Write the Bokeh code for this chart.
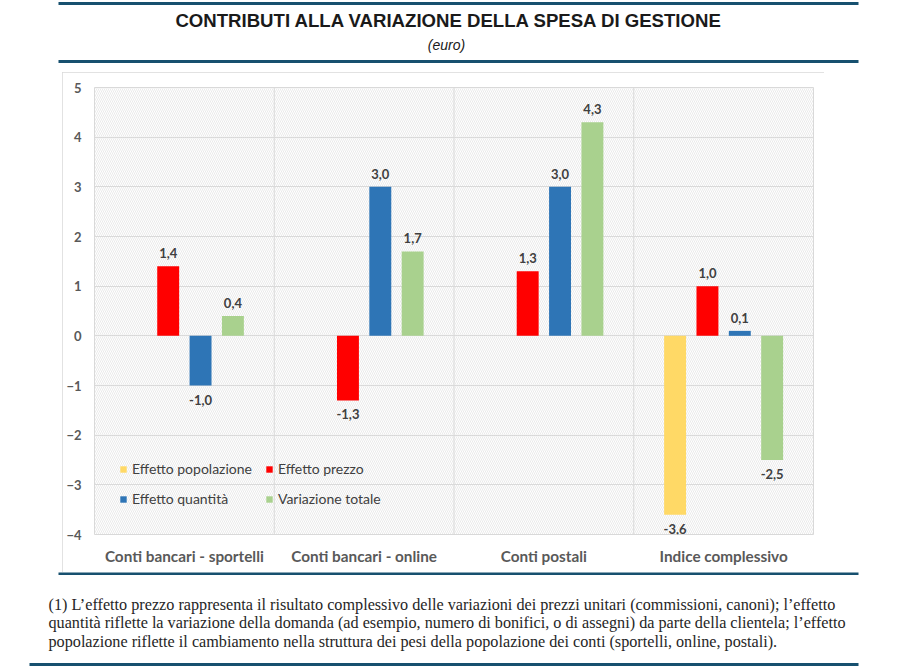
from bokeh.plotting import figure
from bokeh.models import (ColumnDataSource, FactorRange, FixedTicker, Span, BoxAnnotation,
                          Label, Legend, LegendItem, Range1d, Spacer)
from bokeh.layouts import column, row
from bokeh.transform import dodge
from bokeh.core.properties import value
from bokeh.embed import file_html
from bokeh.resources import INLINE

categories = ["Conti bancari - sportelli", "Conti bancari - online", "Conti postali", "Indice complessivo"]
series_names = ["Effetto popolazione", "Effetto prezzo", "Effetto quantità", "Variazione totale"]
popolazione = [None, None, None, -3.6]
prezzo = [1.4, -1.3, 1.3, 1.0]
quantita = [-1.0, 3.0, 3.0, 0.1]
totale = [0.4, 1.7, 4.3, -2.5]
y_ticks = [-4, -3, -2, -1, 0, 1, 2, 3, 4, 5]

title_text = "CONTRIBUTI ALLA VARIAZIONE DELLA SPESA DI GESTIONE"
subtitle_text = "(euro)"
note_lines = [
    "(1) L\u2019effetto prezzo rappresenta il risultato complessivo delle variazioni dei prezzi unitari (commissioni, canoni); l\u2019effetto",
    "quantità riflette la variazione della domanda (ad esempio, numero di bonifici, o di assegni) da parte della clientela; l\u2019effetto",
    "popolazione riflette il cambiamento nella struttura dei pesi della popolazione dei conti (sportelli, online, postali).",
]

colors = ["#FFD966", "#FF0000", "#2E75B6", "#A9D18E"]
offsets = [-0.27, -0.09, 0.09, 0.27]
series = [popolazione, prezzo, quantita, totale]
RULE = "#17506f"


def blank(w, h):
    f = figure(width=w, height=h, x_range=Range1d(0, w), y_range=Range1d(h, 0),
               output_backend="svg", toolbar_location=None, min_border=0,
               x_axis_location=None, y_axis_location=None)
    f.grid.visible = False
    f.outline_line_color = None
    f.background_fill_color = "white"
    f.border_fill_color = "white"
    return f


# ---------- header (canvas y 0..72)
head = blank(901, 72)
for yy in (3, 61):
    head.add_layout(BoxAnnotation(left=58, right=858, top=yy - 1.5, bottom=yy + 1.5,
                                  fill_color=RULE, fill_alpha=1, line_color=None))
head.add_layout(Label(x=449, y=20, text=title_text, text_align="center", text_baseline="middle",
                      text_font="Liberation Sans", text_font_style="bold",
                      text_font_size="18.6px", text_color="#1a1a1a"))
head.add_layout(Label(x=446, y=44, text=subtitle_text, text_align="center", text_baseline="middle",
                      text_font="Liberation Sans", text_font_style="italic",
                      text_font_size="14px", text_color="#1a1a1a"))

# ---------- main chart (canvas x 62..824, y 72..572)
p = figure(width=762, height=500, x_range=FactorRange(factors=categories, range_padding=0),
           y_range=(-4, 5), output_backend="svg", toolbar_location=None,
           min_border_left=32, min_border_right=11, min_border_top=15, min_border_bottom=38)
p.styles = {"outline": "1px solid #d9d9d9", "outline-offset": "-1px"}
p.background_fill_color = "white"
p.border_fill_color = "white"
p.outline_line_color = "#d9d9d9"

p.ygrid.ticker = FixedTicker(ticks=y_ticks)
p.ygrid.grid_line_color = "#d9d9d9"
p.xgrid.grid_line_color = None
for b in range(1, len(categories)):
    p.add_layout(Span(location=b, dimension="height", line_color="#d9d9d9", line_width=1, level="underlay"))

p.add_layout(BoxAnnotation(fill_alpha=0, line_alpha=0, hatch_pattern="\\", hatch_color="#dcdcdc",
                           hatch_scale=4, hatch_weight=0.6, level="underlay"))

p.yaxis.ticker = FixedTicker(ticks=y_ticks)
for ax in (p.xaxis[0], p.yaxis[0]):
    ax.axis_line_color = None
    ax.major_tick_line_color = None
    ax.minor_tick_line_color = None
    ax.major_label_text_font = "Lato"
    ax.major_label_text_font_style = "bold"
    ax.major_label_text_color = "#595959"
p.yaxis.major_label_text_font_size = "13px"
p.yaxis.major_label_standoff = 7
p.xaxis.major_label_text_font_size = "15.3px"
p.xaxis.major_label_standoff = 6

renderers = {}
for name, vals, col, off in zip(series_names, series, colors, offsets):
    tops = [float("nan") if v is None else v for v in vals]
    labels = ["" if v is None else ("%.1f" % v).replace(".", ",") for v in vals]
    yoff = [0 if v is None else (-13 if v >= 0 else 14) for v in vals]
    src = ColumnDataSource(dict(cat=categories, top=tops, lab=labels, yoff=yoff))
    r = p.vbar(x=dodge("cat", off, range=p.x_range), top="top", bottom=0, width=0.122,
               source=src, fill_color=col, line_color=None)
    p.text(x=dodge("cat", off, range=p.x_range), y="top", text="lab", source=src,
           y_offset="yoff", text_align="center", text_baseline="middle",
           text_font=value("Lato"), text_font_style="bold", text_font_size="13px",
           text_color="#404040")
    renderers[name] = r

order = [series_names[0], series_names[2], series_names[1], series_names[3]]
legend = Legend(items=[LegendItem(label=n, renderers=[renderers[n]]) for n in order],
                ncols=2, location=(25, 27), background_fill_alpha=0,
                border_line_color=None, label_text_font="Lato", label_text_font_size="14px",
                label_text_color="#404040", glyph_width=8, glyph_height=8,
                label_standoff=5, spacing=13, padding=0, margin=0, label_height=16)
p.add_layout(legend, "center")

main_row = row(Spacer(width=62, height=500), p, Spacer(width=77, height=500))

# ---------- footer (canvas y 572..670)
foot = blank(901, 98)
foot.add_layout(BoxAnnotation(left=58, right=858, top=-0.5, bottom=2.5,
                              fill_color=RULE, fill_alpha=1, line_color=None))
foot.add_layout(BoxAnnotation(left=29, right=858, top=90.5, bottom=93.5,
                              fill_color=RULE, fill_alpha=1, line_color=None))
for i, line in enumerate(note_lines):
    foot.add_layout(Label(x=48, y=32 + i * 18.5, text=line, text_align="left",
                          text_baseline="middle", text_font="Liberation Serif",
                          text_font_size="16.2px", text_color="#262626"))

layout = column(head, main_row, foot)
open("out.html", "w").write(file_html(layout, INLINE))
